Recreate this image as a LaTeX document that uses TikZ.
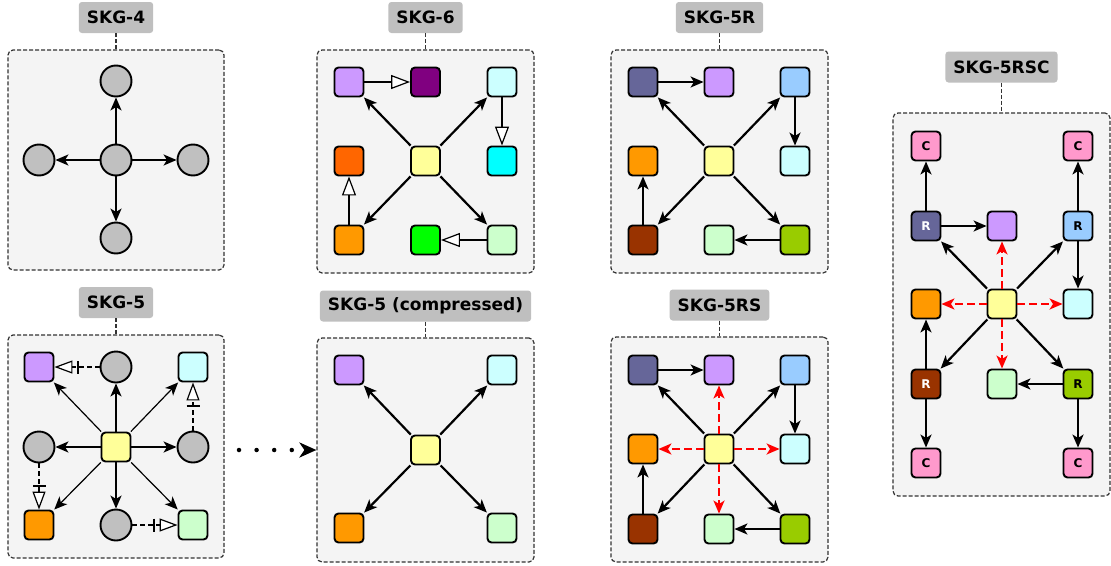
\documentclass[tikz,border=0pt]{standalone}
\usepackage{fontspec}
\setmainfont{DejaVu Sans}
\usepackage{xcolor}
\definecolor{colorPanel}{HTML}{F4F4F4}
\definecolor{colorFrame}{HTML}{333333}
\definecolor{colorTag}{HTML}{BFBFBF}
\definecolor{colorSlot}{HTML}{C0C0C0}
\definecolor{colorRoot}{HTML}{FFFF99}
\definecolor{colorLilac}{HTML}{CC99FF}
\definecolor{colorPlum}{HTML}{800080}
\definecolor{colorIce}{HTML}{CCFFFF}
\definecolor{colorAqua}{HTML}{00FFFF}
\definecolor{colorAmber}{HTML}{FF9900}
\definecolor{colorRust}{HTML}{FF6600}
\definecolor{colorMint}{HTML}{CCFFCC}
\definecolor{colorLime}{HTML}{00FF00}
\definecolor{colorSlate}{HTML}{666699}
\definecolor{colorSky}{HTML}{99CCFF}
\definecolor{colorBrown}{HTML}{993300}
\definecolor{colorOlive}{HTML}{99CC00}
\definecolor{colorPink}{HTML}{FF99CC}
\usetikzlibrary{arrows.meta}
\tikzset{
  slot/.style={circle, draw, line width=1.9pt, fill=colorSlot, minimum size=31pt, inner sep=0pt},
  box/.style={rectangle, rounded corners=4pt, draw, line width=1.9pt, minimum size=29pt, inner sep=0pt, font=\fontsize{12}{12}\selectfont\bfseries},
  panel/.style={rectangle, rounded corners=5pt, draw=colorFrame, dash pattern=on 4pt off 2pt, line width=1.2pt, fill=colorPanel, inner sep=0pt},
  tag/.style={rectangle, rounded corners=3pt, fill=colorTag, minimum height=31pt, inner xsep=8pt, inner ysep=0pt, font=\fontsize{17}{17}\selectfont\bfseries},
  link/.style={draw=colorFrame, dash pattern=on 4pt off 2pt, line width=1.2pt},
  main/.style={->, line width=2.2pt},
  side/.style={->, line width=1.2pt},
  spec/.style={-{Triangle[fill=white, length=19pt, width=14pt, line width=1.2pt]}, line width=2.2pt},
  hint/.style={-{Bar[width=13pt, line width=1.4pt, sep=5pt] Triangle[fill=white, length=18pt, width=13pt, line width=1.2pt]}, dash pattern=on 5pt off 3pt, line width=1.2pt},
  redir/.style={->, draw=red, dash pattern=on 8pt off 4pt, line width=2.2pt},
  dots/.style={-{Stealth[length=17pt, width=15pt, inset=5pt]}, line width=4.5pt, line cap=round, dash pattern=on 0pt off 17.6pt}
}

\begin{document}
\begin{tikzpicture}[x=1pt, y=-1pt, >={Stealth[length=13pt, width=11pt, inset=3.5pt]}]
\useasboundingbox (0,0) rectangle (1111,565);

\node[panel, minimum width=216pt, minimum height=220pt] (p4) at (116,160) {};
\node[panel, minimum width=216pt, minimum height=223pt] (p5) at (116,446.5) {};
\node[panel, minimum width=217pt, minimum height=223pt] (p6) at (425.5,161.5) {};
\node[panel, minimum width=217pt, minimum height=224pt] (pc) at (425.5,450) {};
\node[panel, minimum width=217pt, minimum height=223pt] (p5r) at (719.5,161.5) {};
\node[panel, minimum width=217pt, minimum height=225pt] (p5rs) at (719.5,449.5) {};
\node[panel, minimum width=217pt, minimum height=383pt] (p5rsc) at (1001.5,304.5) {};

\node[tag] (t4) at (116,17.5) {SKG-4};
\node[tag] (t5) at (116,302.5) {SKG-5};
\node[tag] (t6) at (425.5,17.5) {SKG-6};
\node[tag] (tc) at (425.5,306) {SKG-5 (compressed)};
\node[tag] (t5r) at (719.5,17.5) {SKG-5R};
\node[tag] (t5rs) at (719.5,305) {SKG-5RS};
\node[tag] (t5rsc) at (1001.5,67) {SKG-5RSC};
\draw[link] (t4) -- (p4);
\draw[link] (t5) -- (p5);
\draw[link] (t6) -- (p6);
\draw[link] (tc) -- (pc);
\draw[link] (t5r) -- (p5r);
\draw[link] (t5rs) -- (p5rs);
\draw[link] (t5rsc) -- (p5rsc);

\node[slot] (a0) at (116,160) {};
\node[slot] (a1) at (116,81) {};
\node[slot] (a2) at (39,160) {};
\node[slot] (a3) at (193,160) {};
\node[slot] (a4) at (116,238) {};
\draw[main] (a0) -- (a1);
\draw[main] (a0) -- (a2);
\draw[main] (a0) -- (a3);
\draw[main] (a0) -- (a4);

\node[box, fill=colorRoot] (b0) at (116,447) {};
\node[slot] (b1) at (116,367) {};
\node[slot] (b2) at (39,447) {};
\node[slot] (b3) at (193,447) {};
\node[slot] (b4) at (116,525) {};
\node[box, fill=colorLilac] (b5) at (39,367) {};
\node[box, fill=colorIce] (b6) at (193,367) {};
\node[box, fill=colorAmber] (b7) at (39,525) {};
\node[box, fill=colorMint] (b8) at (193,525) {};
\draw[main] (b0) -- (b1);
\draw[main] (b0) -- (b2);
\draw[main] (b0) -- (b3);
\draw[main] (b0) -- (b4);
\draw[side] (b0) -- (b5);
\draw[side] (b0) -- (b6);
\draw[side] (b0) -- (b7);
\draw[side] (b0) -- (b8);
\draw[hint] (b1) -- (b5);
\draw[hint] (b3) -- (b6);
\draw[hint] (b2) -- (b7);
\draw[hint] (b4) -- (b8);

\node[box, fill=colorRoot] (c0) at (425.5,161) {};
\node[box, fill=colorLilac] (c1) at (349,82) {};
\node[box, fill=colorPlum] (c2) at (425.5,82) {};
\node[box, fill=colorIce] (c3) at (502,82) {};
\node[box, fill=colorRust] (c4) at (349,161) {};
\node[box, fill=colorAqua] (c5) at (502,161) {};
\node[box, fill=colorAmber] (c6) at (349,240) {};
\node[box, fill=colorLime] (c7) at (425.5,240) {};
\node[box, fill=colorMint] (c8) at (502,240) {};
\draw[main] (c0) -- (c1);
\draw[main] (c0) -- (c3);
\draw[main] (c0) -- (c6);
\draw[main] (c0) -- (c8);
\draw[spec] (c1) -- (c2);
\draw[spec] (c3) -- (c5);
\draw[spec] (c6) -- (c4);
\draw[spec] (c8) -- (c7);

\node[box, fill=colorRoot] (d0) at (425.5,450) {};
\node[box, fill=colorLilac] (d1) at (349,370) {};
\node[box, fill=colorIce] (d2) at (502,370) {};
\node[box, fill=colorAmber] (d3) at (349,528) {};
\node[box, fill=colorMint] (d4) at (502,528) {};
\draw[main] (d0) -- (d1);
\draw[main] (d0) -- (d2);
\draw[main] (d0) -- (d3);
\draw[main] (d0) -- (d4);
\coordinate (d5) at (239,450);
\draw[dots] (d5) -- (pc.west);

\node[box, fill=colorRoot] (e0) at (719,161) {};
\node[box, fill=colorSlate] (e1) at (643,82) {};
\node[box, fill=colorLilac] (e2) at (719,82) {};
\node[box, fill=colorSky] (e3) at (795,82) {};
\node[box, fill=colorAmber] (e4) at (643,161) {};
\node[box, fill=colorIce] (e5) at (795,161) {};
\node[box, fill=colorBrown] (e6) at (643,240) {};
\node[box, fill=colorMint] (e7) at (719,240) {};
\node[box, fill=colorOlive] (e8) at (795,240) {};
\draw[main] (e0) -- (e1);
\draw[main] (e0) -- (e3);
\draw[main] (e0) -- (e6);
\draw[main] (e0) -- (e8);
\draw[main] (e1) -- (e2);
\draw[main] (e3) -- (e5);
\draw[main] (e6) -- (e4);
\draw[main] (e8) -- (e7);

\node[box, fill=colorRoot] (f0) at (719,449) {};
\node[box, fill=colorSlate] (f1) at (643,370) {};
\node[box, fill=colorLilac] (f2) at (719,370) {};
\node[box, fill=colorSky] (f3) at (795,370) {};
\node[box, fill=colorAmber] (f4) at (643,449) {};
\node[box, fill=colorIce] (f5) at (795,449) {};
\node[box, fill=colorBrown] (f6) at (643,529) {};
\node[box, fill=colorMint] (f7) at (719,529) {};
\node[box, fill=colorOlive] (f8) at (795,529) {};
\draw[main] (f0) -- (f1);
\draw[main] (f0) -- (f3);
\draw[main] (f0) -- (f6);
\draw[main] (f0) -- (f8);
\draw[main] (f1) -- (f2);
\draw[main] (f3) -- (f5);
\draw[main] (f6) -- (f4);
\draw[main] (f8) -- (f7);
\draw[redir] (f0) -- (f2);
\draw[redir] (f0) -- (f4);
\draw[redir] (f0) -- (f5);
\draw[redir] (f0) -- (f7);

\node[box, fill=colorRoot] (g0) at (1002,304) {};
\node[box, fill=colorPink] (g1) at (926,146) {C};
\node[box, fill=colorPink] (g2) at (1078,146) {C};
\node[box, fill=colorSlate, text=white] (g3) at (926,226) {R};
\node[box, fill=colorLilac] (g4) at (1002,226) {};
\node[box, fill=colorSky] (g5) at (1078,226) {R};
\node[box, fill=colorAmber] (g6) at (926,304) {};
\node[box, fill=colorIce] (g7) at (1078,304) {};
\node[box, fill=colorBrown, text=white] (g8) at (926,384) {R};
\node[box, fill=colorMint] (g9) at (1002,384) {};
\node[box, fill=colorOlive] (g10) at (1078,384) {R};
\node[box, fill=colorPink] (g11) at (926,463) {C};
\node[box, fill=colorPink] (g12) at (1078,463) {C};
\draw[main] (g0) -- (g3);
\draw[main] (g0) -- (g5);
\draw[main] (g0) -- (g8);
\draw[main] (g0) -- (g10);
\draw[main] (g3) -- (g1);
\draw[main] (g5) -- (g2);
\draw[main] (g8) -- (g11);
\draw[main] (g10) -- (g12);
\draw[main] (g3) -- (g4);
\draw[main] (g5) -- (g7);
\draw[main] (g8) -- (g6);
\draw[main] (g10) -- (g9);
\draw[redir] (g0) -- (g4);
\draw[redir] (g0) -- (g6);
\draw[redir] (g0) -- (g7);
\draw[redir] (g0) -- (g9);
\end{tikzpicture}
\end{document}
